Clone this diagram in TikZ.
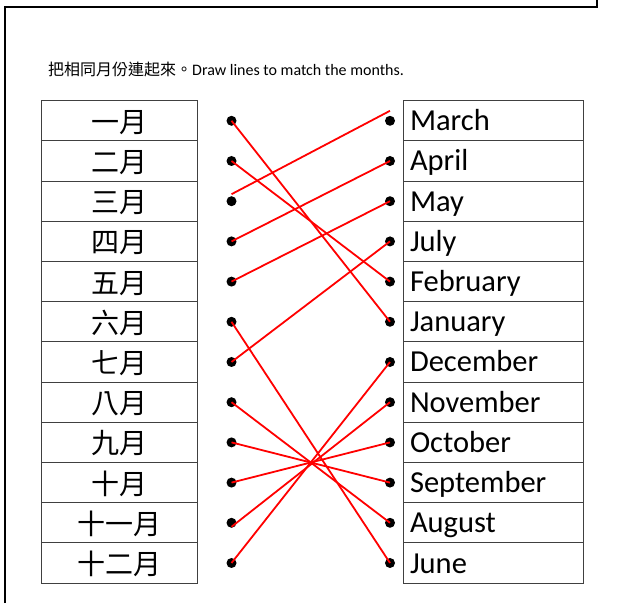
\documentclass[tikz,border=0pt]{standalone}
\usepackage{fontspec}
\setmainfont{Carlito}
\newfontfamily\cjk{Noto Sans CJK TC}
\usepackage{tikz}
\tikzstyle{cell} = [draw=black!75, rectangle, line width=0.9pt,
    minimum height=40.2pt, inner ysep=0pt, text height=24pt, text depth=4pt]
\tikzstyle{cnbox} = [cell, minimum width=156pt, text height=25pt, text depth=2pt,
    font=\cjk\fontsize{28}{30}\selectfont]
\tikzstyle{enbox} = [cell, text width=166pt, inner xsep=7pt, align=left,
    font=\fontsize{30.5}{36}\selectfont]
\tikzstyle{dot} = [circle, fill=black, inner sep=0pt, minimum size=10pt]
\tikzstyle{match} = [draw=red, line width=1.8pt]

\begin{document}
\begin{tikzpicture}[x=1pt, y=1pt, node distance=40.2pt]
    \useasboundingbox (0,0) rectangle (619,603);
    \draw [line width=2pt] (5,0) -- (5,596) -- (597,596) -- (597,603);

    \node [anchor=base west, inner sep=0pt, font=\fontsize{16}{19}\selectfont] (title) at (48,527)
        {{\cjk 把相同月份連起來。}Draw lines to match the months.};

    % left column
    \node [cnbox] (cn1) at (119,482.2) {一月};
    \node [cnbox, below of=cn1] (cn2) {二月};
    \node [cnbox, below of=cn2] (cn3) {三月};
    \node [cnbox, below of=cn3] (cn4) {四月};
    \node [cnbox, below of=cn4] (cn5) {五月};
    \node [cnbox, below of=cn5] (cn6) {六月};
    \node [cnbox, below of=cn6] (cn7) {七月};
    \node [cnbox, below of=cn7] (cn8) {八月};
    \node [cnbox, below of=cn8] (cn9) {九月};
    \node [cnbox, below of=cn9] (cn10) {十月};
    \node [cnbox, below of=cn10] (cn11) {十一月};
    \node [cnbox, below of=cn11] (cn12) {十二月};

    % right column
    \node [enbox] (en1) at (493,482.2) {March};
    \node [enbox, below of=en1] (en2) {April};
    \node [enbox, below of=en2] (en3) {May};
    \node [enbox, below of=en3] (en4) {July};
    \node [enbox, below of=en4] (en5) {February};
    \node [enbox, below of=en5] (en6) {January};
    \node [enbox, below of=en6] (en7) {December};
    \node [enbox, below of=en7] (en8) {November};
    \node [enbox, below of=en8] (en9) {October};
    \node [enbox, below of=en9] (en10) {September};
    \node [enbox, below of=en10] (en11) {August};
    \node [enbox, below of=en11] (en12) {June};

    % dots
    \node [dot, right of=cn1, node distance=112.5pt] (p1) {};
    \node [dot, right of=cn2, node distance=112.5pt] (p2) {};
    \node [dot, right of=cn3, node distance=112.5pt] (p3) {};
    \node [dot, right of=cn4, node distance=112.5pt] (p4) {};
    \node [dot, right of=cn5, node distance=112.5pt] (p5) {};
    \node [dot, right of=cn6, node distance=112.5pt] (p6) {};
    \node [dot, right of=cn7, node distance=112.5pt] (p7) {};
    \node [dot, right of=cn8, node distance=112.5pt] (p8) {};
    \node [dot, right of=cn9, node distance=112.5pt] (p9) {};
    \node [dot, right of=cn10, node distance=112.5pt] (p10) {};
    \node [dot, right of=cn11, node distance=112.5pt] (p11) {};
    \node [dot, right of=cn12, node distance=112.5pt] (p12) {};
    \node [dot, left of=en1, node distance=103pt] (q1) {};
    \node [dot, left of=en2, node distance=103pt] (q2) {};
    \node [dot, left of=en3, node distance=103pt] (q3) {};
    \node [dot, left of=en4, node distance=103pt] (q4) {};
    \node [dot, left of=en5, node distance=103pt] (q5) {};
    \node [dot, left of=en6, node distance=103pt] (q6) {};
    \node [dot, left of=en7, node distance=103pt] (q7) {};
    \node [dot, left of=en8, node distance=103pt] (q8) {};
    \node [dot, left of=en9, node distance=103pt] (q9) {};
    \node [dot, left of=en10, node distance=103pt] (q10) {};
    \node [dot, left of=en11, node distance=103pt] (q11) {};
    \node [dot, left of=en12, node distance=103pt] (q12) {};

    % matches
    \draw [match] (p1.center) -- (q6.center);
    \draw [match] (p2.center) -- (q5.center);
    \draw [match] ([yshift=7pt]p3.center) -- ([yshift=10pt]q1.center);
    \draw [match] (p4.center) -- (q2.center);
    \draw [match] (p5.center) -- (q3.center);
    \draw [match] (p6.center) -- (q12.center);
    \draw [match] (p7.center) -- (q4.center);
    \draw [match] (p8.center) -- (q11.center);
    \draw [match] (p9.center) -- (q10.center);
    \draw [match] (p10.center) -- (q9.center);
    \draw [match] ([yshift=-4pt]p11.center) -- (q8.center);
    \draw [match] (p12.center) -- (q7.center);
\end{tikzpicture}
\end{document}
